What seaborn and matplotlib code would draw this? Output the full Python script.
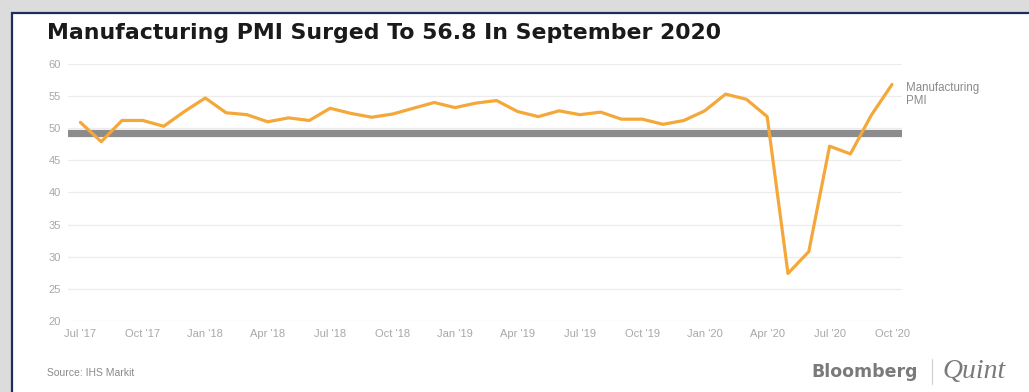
import numpy as np
import pandas as pd
import matplotlib.pyplot as plt
from matplotlib.patches import Rectangle
import seaborn as sns

# monthly PMI readings (Jun 2017 .. Sep 2020), one point per month
pmi = [50.9, 47.9, 51.2, 51.2, 50.3, 52.6, 54.7, 52.4, 52.1, 51.0,
       51.6, 51.2, 53.1, 52.3, 51.7, 52.2, 53.1, 54.0, 53.2, 53.9,
       54.3, 52.6, 51.8, 52.7, 52.1, 52.5, 51.4, 51.4, 50.6, 51.2,
       52.7, 55.3, 54.5, 51.8, 27.4, 30.8, 47.2, 46.0, 52.0, 56.8]
tick_labels = ["Jul '17", "Oct '17", "Jan '18", "Apr '18", "Jul '18", "Oct '18",
               "Jan '19", "Apr '19", "Jul '19", "Oct '19", "Jan '20", "Apr '20",
               "Jul '20", "Oct '20"]
threshold = 49.3

df = pd.DataFrame({"month": np.arange(len(pmi)), "pmi": pmi})

sns.set_style("white")
plt.rcParams['font.family'] = ['Liberation Sans', 'DejaVu Sans']

fig = plt.figure(figsize=(10.29, 3.92), dpi=100)
fig.patch.set_facecolor('#dcdcdc')
# white card with navy frame
fig.patches.append(Rectangle((0.0117, -0.01), 1.0, 0.977, transform=fig.transFigure,
                             facecolor='white', edgecolor='#1f2d5a', lw=1.6, zorder=-5))

ax = fig.add_axes([0.066, 0.181, 0.811, 0.656])
ax.set_facecolor('none')

for v in range(20, 61, 5):
    ax.axhline(v, color='#ececec', lw=0.9, zorder=0)
ax.axhline(threshold, color='#8c8c8c', lw=5.2, zorder=1)

sns.lineplot(data=df, x="month", y="pmi", color='#f5a83a', lw=2.3, ax=ax, zorder=3)

ax.set_xlim(-0.6, 39.5)
ax.set_ylim(20, 60)
ax.set_yticks(range(20, 61, 5))
ax.set_xticks(np.arange(0, 40, 3))
ax.set_xticklabels(tick_labels)
ax.tick_params(axis='both', length=0, labelsize=8, labelcolor='#a8a8a8')
ax.tick_params(axis='y', pad=5)
ax.tick_params(axis='x', pad=6)
ax.set_xlabel("")
ax.set_ylabel("")
for s in ax.spines.values():
    s.set_visible(False)

ax.annotate("Manufacturing\nPMI", xy=(len(pmi) - 1, pmi[-1]), xytext=(10, -7),
            textcoords='offset points', fontsize=8.3, color='#8a8a8a',
            va='center', ha='left', linespacing=1.15)

fig.text(0.046, 0.915, "Manufacturing PMI Surged To 56.8 In September 2020",
         fontsize=15.8, fontweight='bold', color='#1a1a1a', va='center', ha='left',
         family='DejaVu Sans')
fig.text(0.046, 0.048, "Source: IHS Markit", fontsize=7.5, color='#8a8a8a',
         va='center', ha='left')
fig.text(0.892, 0.052, "Bloomberg", fontsize=12.5, fontweight='bold', color='#7a7a7a',
         va='center', ha='right', family='DejaVu Sans')
fig.add_artist(plt.Line2D([0.906, 0.906], [0.02, 0.085], transform=fig.transFigure,
                          color='#cfcfcf', lw=0.8))
fig.text(0.916, 0.052, "Quint", fontsize=20, fontstyle='italic', color='#7a7a7a',
         family=['Liberation Serif', 'DejaVu Serif'], va='center', ha='left')

fig.savefig("out.png", dpi=100)
